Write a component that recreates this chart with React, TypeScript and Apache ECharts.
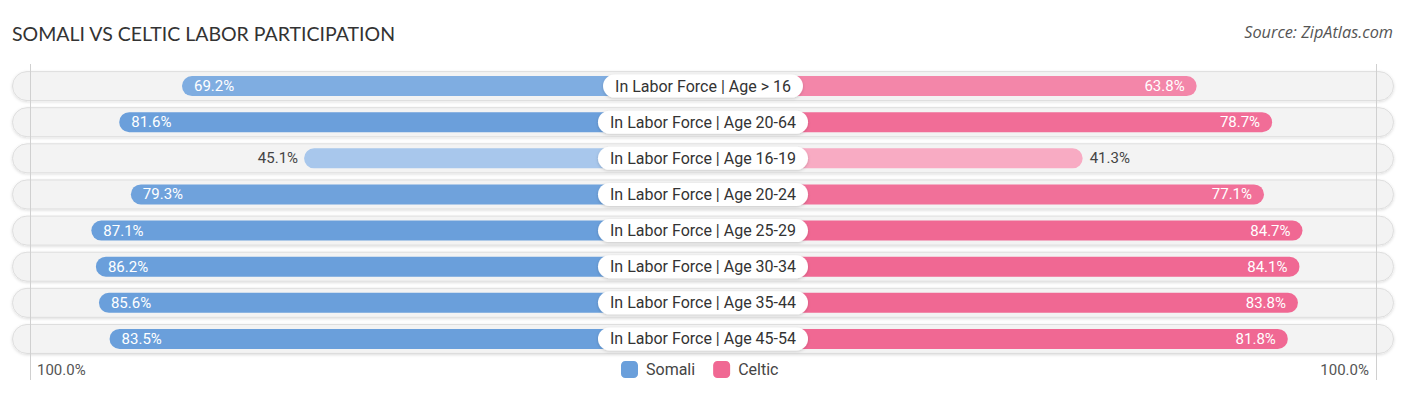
import React, { useEffect, useRef } from "react";
import * as echarts from "echarts";

const categories = [
  "In Labor Force | Age > 16",
  "In Labor Force | Age 20-64",
  "In Labor Force | Age 16-19",
  "In Labor Force | Age 20-24",
  "In Labor Force | Age 25-29",
  "In Labor Force | Age 30-34",
  "In Labor Force | Age 35-44",
  "In Labor Force | Age 45-54",
];
const somali = [69.2, 81.6, 45.1, 79.3, 87.1, 86.2, 85.6, 83.5];
const celtic = [63.8, 78.7, 41.3, 77.1, 84.7, 84.1, 83.8, 81.8];
const axisEndLabel = "100.0%";

// Half-gap (in value units) hidden behind the centre label
const OFFSET = 33.66;
const HALF = 100 + OFFSET;

function hexToRgb(h: string) {
  const n = parseInt(h.slice(1), 16);
  return [(n >> 16) & 255, (n >> 8) & 255, n & 255];
}
function mix(a: string, b: string, t: number) {
  const A = hexToRgb(a);
  const B = hexToRgb(b);
  const c = A.map((v, i) => Math.round(v + (B[i] - v) * t));
  return `rgb(${c[0]},${c[1]},${c[2]})`;
}
function shade(light: string, full: string, v: number) {
  const t = Math.max(0, Math.min(1, (v - 40) / (82 - 40)));
  return mix(light, full, t);
}

const BLUE = "#6a9fdb";
const BLUE_LIGHT = "#b0cdee";
const PINK = "#f06893";
const PINK_LIGHT = "#f8adc5";
const FONT = "Roboto, 'Noto Sans', sans-serif";

export default function App() {
  const ref = useRef<HTMLDivElement>(null);
  useEffect(() => {
    if (!ref.current) return;
    const chart = echarts.init(ref.current, null, { renderer: "svg" });
    const top = 68;
    const bottom = 395 - 357;

    const leftData = somali.map((v) => {
      const inside = v >= 55;
      return {
        value: -(v + OFFSET),
        raw: v,
        itemStyle: { color: shade(BLUE_LIGHT, BLUE, v) },
        label: inside
          ? { position: "insideLeft", distance: 12, color: "#ffffff" }
          : { position: "left", distance: 6, color: "#444444" },
      };
    });
    const rightData = celtic.map((v) => {
      const inside = v >= 55;
      return {
        value: v + OFFSET,
        raw: v,
        itemStyle: { color: shade(PINK_LIGHT, PINK, v) },
        label: inside
          ? { position: "insideRight", distance: 12, color: "#ffffff" }
          : { position: "right", distance: 7, color: "#444444" },
      };
    });

    const option: any = {
      animation: false,
      textStyle: { fontFamily: FONT },
      title: [
        {
          text: "SOMALI VS CELTIC LABOR PARTICIPATION",
          left: 12,
          top: 23,
          padding: 0,
          textStyle: {
            fontFamily: "Lato, 'Open Sans', sans-serif",
            fontSize: 19.5,
            fontWeight: "normal",
            color: "#333333",
          },
        },
        {
          text: "Source: ZipAtlas.com",
          right: 13,
          top: 24,
          padding: 0,
          textStyle: {
            fontFamily: "'Open Sans', sans-serif",
            fontSize: 16.3,
            fontStyle: "italic",
            fontWeight: "normal",
            color: "#555555",
          },
        },
      ],
      legend: {
        data: ["Somali", "Celtic"],
        left: 616,
        top: 356,
        itemWidth: 17,
        itemHeight: 17,
        itemGap: 18,
        icon: "roundRect",
        textStyle: { fontFamily: FONT, fontSize: 16, color: "#444444", padding: [0, 0, 0, 3] },
        selectedMode: false,
      },
      grid: [
        { left: 12, right: 12, top, bottom },
        { left: 26, right: 26, top, bottom },
      ],
      xAxis: [
        { gridIndex: 0, type: "value", min: 0, max: 1, show: false },
        { gridIndex: 1, type: "value", min: -HALF, max: HALF, show: false },
      ],
      yAxis: [
        { gridIndex: 0, type: "category", data: categories, inverse: true, show: false },
        { gridIndex: 1, type: "category", data: categories, inverse: true, show: false },
      ],
      graphic: [
        {
          type: "line",
          shape: { x1: 30.5, y1: 64, x2: 30.5, y2: 380 },
          style: { stroke: "#d0d0d0", lineWidth: 1 },
          z: 1,
        },
        {
          type: "line",
          shape: { x1: 1376.5, y1: 64, x2: 1376.5, y2: 380 },
          style: { stroke: "#d0d0d0", lineWidth: 1 },
          z: 1,
        },
        {
          type: "text",
          left: 37,
          top: 362,
          style: { text: axisEndLabel, fontFamily: FONT, fontSize: 15, fill: "#555555" },
        },
        {
          type: "text",
          right: 37,
          top: 362,
          style: { text: axisEndLabel, fontFamily: FONT, fontSize: 15, fill: "#555555", textAlign: "right" },
        },
      ],
      series: [
        {
          type: "bar",
          name: "bg",
          xAxisIndex: 0,
          yAxisIndex: 0,
          data: categories.map(() => 1),
          barWidth: 30,
          silent: true,
          z: 0,
          itemStyle: {
            color: "#f3f3f3",
            borderRadius: 15,
            borderColor: "#dedede",
            borderWidth: 1,
            shadowColor: "rgba(0,0,0,0.14)",
            shadowBlur: 3,
            shadowOffsetY: 1,
          },
        },
        {
          type: "bar",
          name: "Somali",
          xAxisIndex: 1,
          yAxisIndex: 1,
          data: leftData,
          barWidth: 20,
          barGap: "-100%",
          z: 2,
          itemStyle: { color: BLUE, borderRadius: 10 },
          label: {
            show: true,
            fontFamily: FONT,
            fontSize: 15,
            formatter: (p: any) => `${p.data.raw.toFixed(1)}%`,
          },
        },
        {
          type: "bar",
          name: "Celtic",
          xAxisIndex: 1,
          yAxisIndex: 1,
          data: rightData,
          barWidth: 20,
          barGap: "-100%",
          z: 2,
          itemStyle: { color: PINK, borderRadius: 10 },
          label: {
            show: true,
            fontFamily: FONT,
            fontSize: 15,
            formatter: (p: any) => `${p.data.raw.toFixed(1)}%`,
          },
        },
        {
          type: "scatter",
          name: "labels",
          xAxisIndex: 1,
          yAxisIndex: 1,
          data: categories.map((c) => [0, c]),
          symbolSize: 1,
          itemStyle: { color: "#ffffff", opacity: 1 },
          silent: true,
          z: 5,
          label: {
            show: true,
            position: "inside",
            opacity: 1,
            formatter: (p: any) => p.data[1],
            fontFamily: FONT,
            fontSize: 16,
            color: "#333333",
            backgroundColor: "#ffffff",
            borderRadius: 12,
            padding: [3, 12, 3, 12],
            lineHeight: 17,
            shadowColor: "rgba(0,0,0,0.18)",
            shadowBlur: 3,
            shadowOffsetY: 1,
          },
        },
      ],
    };
    chart.setOption(option);
    return () => chart.dispose();
  }, []);
  return <div ref={ref} style={{ width: 1406, height: 395, margin: -8 }} />;
}
